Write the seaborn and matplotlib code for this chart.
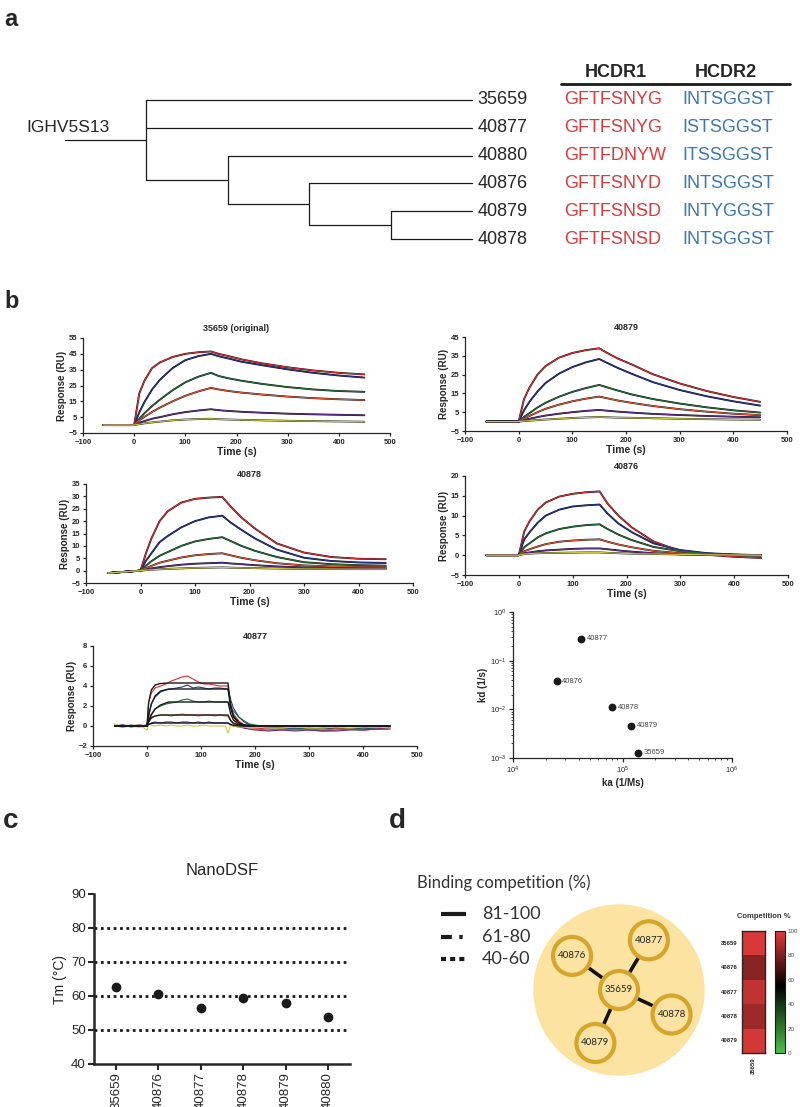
import numpy as np
import pandas as pd
import matplotlib
matplotlib.use("Agg")
import matplotlib.pyplot as plt
import matplotlib.transforms as mtransforms
from matplotlib.colors import LinearSegmentedColormap
from matplotlib.patches import Circle
from matplotlib.ticker import LogLocator, NullFormatter
import seaborn as sns

# ---------------- data ----------------
# a: clonal tree + CDR sequences
clones = ["35659", "40877", "40880", "40876", "40879", "40878"]
hcdr1 = ["GFTFSNYG", "GFTFSNYG", "GFTFDNYW", "GFTFSNYD", "GFTFSNSD", "GFTFSNSD"]
hcdr2 = ["INTSGGST", "ISTSGGST", "ITSSGGST", "INTSGGST", "INTYGGST", "INTSGGST"]
tree = (0, ["35659", "40877", (1, ["40880", (2, ["40876", (3, ["40879", "40878"])])])])
germline = "IGHV5S13"

# b: SPR sensorgrams (RU), six analyte concentrations, high -> low
t_spr = [-60, 0, 10, 20, 35, 50, 75, 100, 125, 150, 165, 185, 210, 250, 300, 350, 400, 450]
spr_35659 = [
    [0, 0, 20, 28, 36, 39.5, 43, 45, 46, 46.5, 45, 43.5, 41.5, 39, 36.5, 34.5, 33, 32],
    [0, 0, 8, 14.5, 22.5, 28.5, 36, 41, 43.5, 45, 43.5, 42, 40, 37.8, 35.2, 33, 31.3, 30],
    [0, 0, 4, 7.5, 12, 16, 22, 27, 30.5, 33, 31, 29.5, 28, 26, 24, 22.5, 21.5, 21],
    [0, 0, 3, 5.2, 8.3, 11, 15, 18.5, 21.2, 23.5, 22.5, 21.5, 20.5, 19.3, 18, 17, 16.3, 15.8],
    [0, 0, 1.5, 2.5, 4, 5, 6.8, 8.2, 9.2, 10, 9.4, 8.9, 8.4, 7.8, 7.2, 6.8, 6.5, 6.2],
    [0, 0, 0.6, 1.1, 1.7, 2.2, 3, 3.5, 3.8, 4, 3.7, 3.5, 3.3, 3, 2.7, 2.5, 2.3, 2.1],
]
spr_40879 = [
    [0, 0, 12, 18, 25, 29.5, 34, 36.5, 38, 39, 36.5, 33.5, 30.5, 25.2, 20.3, 16.3, 13.1, 10.5],
    [0, 0, 6, 10.5, 16, 20.5, 25.5, 29, 31.5, 33.3, 31.2, 28.5, 25.5, 21, 16.8, 13.5, 10.8, 8.5],
    [0, 0, 2.5, 4.5, 7.5, 10, 13.2, 15.8, 17.8, 19.5, 18.2, 16.5, 14.5, 12, 9.6, 7.6, 6, 4.8],
    [0, 0, 1.5, 3, 5, 6.8, 9, 10.8, 12.2, 13.3, 12.4, 11.2, 10, 8.3, 6.6, 5.3, 4.2, 3.4],
    [0, 0, 0.8, 1.5, 2.4, 3.2, 4.2, 5, 5.7, 6.2, 5.8, 5.3, 4.8, 4.1, 3.5, 3, 2.6, 2.3],
    [0, 0, 0.3, 0.5, 0.8, 1.1, 1.5, 1.9, 2.2, 2.4, 2.3, 2.1, 2, 1.8, 1.5, 1.3, 1.1, 1.0],
]
spr_40878 = [
    [-1, 0, 7, 13, 20, 24, 27.5, 29, 29.5, 29.8, 26, 21.5, 17, 11, 7.3, 5.5, 4.8, 4.6],
    [-1, 0, 4, 7, 11.5, 14, 17.5, 20, 21.5, 22.2, 19.5, 16.5, 13, 8.5, 5.2, 3.9, 3.3, 3.1],
    [-1, 0, 2, 3.8, 6, 7.5, 10, 11.8, 12.8, 13.5, 12, 10, 8, 5.5, 3.4, 2.6, 2.2, 2],
    [-1, 0, 1, 1.9, 3.2, 4, 5.3, 6.2, 6.7, 7, 6.2, 5.2, 4.2, 3, 2.1, 1.7, 1.5, 1.4],
    [-1, 0, 0.5, 0.9, 1.4, 1.8, 2.4, 2.8, 3, 3.2, 2.9, 2.6, 2.2, 1.7, 1.3, 1.1, 1, 1],
    [-1, 0, 0.2, 0.35, 0.55, 0.7, 0.9, 1.1, 1.2, 1.3, 1.2, 1.1, 1, 0.85, 0.7, 0.65, 0.6, 0.6],
]
spr_40876 = [
    [0, 0, 6, 8.6, 11.5, 13.3, 14.8, 15.5, 15.9, 16.1, 13, 10, 7, 3.5, 1, 0.1, -0.4, -0.7],
    [0, 0, 4, 5.8, 8.2, 10, 11.5, 12.3, 12.6, 12.8, 10.5, 8, 5.8, 3, 1.3, 0.5, 0.2, 0],
    [0, 0, 2, 3, 4.5, 5.5, 6.6, 7.2, 7.6, 7.8, 6.6, 5.2, 3.8, 2.1, 1, 0.4, 0.1, 0],
    [0, 0, 1, 1.5, 2.2, 2.8, 3.4, 3.7, 3.9, 4, 3.4, 2.7, 2, 1.1, 0.5, 0.2, 0, -0.1],
    [0, 0, 0.5, 0.7, 1, 1.2, 1.4, 1.6, 1.7, 1.7, 1.5, 1.2, 0.9, 0.5, 0.2, 0.1, 0, 0],
    [0, 0, 0.3, 0.4, 0.5, 0.55, 0.6, 0.65, 0.7, 0.7, 0.6, 0.5, 0.4, 0.3, 0.2, 0.1, 0.05, 0],
]
t_40877 = [-60, -45, -30, -15, 0, 3, 8, 15, 25, 35, 45, 55, 65, 75, 85, 95, 105, 115, 125,
           135, 145, 150, 155, 160, 170, 180, 190, 200, 225, 250, 275, 300, 325, 350, 375,
           400, 425, 450]
spr_40877 = [
    [0.1, -0.1, 0.0, 0.1, 0.0,
     2.4, 3.3, 3.8, 4.0, 4.2, 4.5, 4.7, 4.9, 5.0, 4.7, 4.4, 4.2, 4.2, 4.1, 4.0, 4.0, 4.0,
     2.2, 1.2, 0.5, 0.1, -0.1, -0.2, -0.3, -0.4, -0.3, -0.4, -0.5, -0.4, -0.3, -0.4, -0.3, -0.2],
    [0.0, 0.1, -0.1, 0.0, 0.1,
     1.0, 2.2, 2.9, 3.4, 3.6, 3.7, 3.8, 3.9, 4.1, 3.8, 3.9, 3.8, 3.7, 3.8, 3.8, 3.7, 3.7,
     2.6, 1.8, 0.9, 0.4, 0.1, 0.0, -0.2, -0.2, -0.3, -0.2, -0.3, -0.2, -0.3, -0.2, -0.3, -0.2],
    [0.0, -0.1, 0.1, 0.0, 0.0,
     0.5, 1.2, 1.7, 2.0, 2.2, 2.3, 2.4, 2.6, 2.7, 2.5, 2.4, 2.4, 2.5, 2.4, 2.4, 2.4, 2.4,
     1.9, 1.5, 0.9, 0.5, 0.2, 0.1, -0.1, -0.2, -0.2, -0.3, -0.2, -0.2, -0.3, -0.2, -0.2, -0.1],
    [0.1, 0.0, 0.0, -0.1, 0.0,
     0.4, 0.9, 1.0, 1.1, 1.1, 1.0, 1.1, 1.2, 1.1, 1.1, 1.0, 1.1, 1.1, 1.0, 1.1, 1.0, 1.0,
     0.5, 0.2, 0.0, -0.2, -0.3, -0.3, -0.4, -0.3, -0.4, -0.3, -0.4, -0.3, -0.3, -0.4, -0.3, -0.3],
    [0.0, 0.1, 0.0, 0.1, 0.0,
     0.2, 0.3, 0.4, 0.3, 0.4, 0.4, 0.3, 0.4, 0.4, 0.3, 0.4, 0.3, 0.4, 0.3, 0.3, 0.3, 0.3,
     0.1, 0.0, -0.1, -0.2, -0.3, -0.4, -0.5, -0.4, -0.5, -0.4, -0.5, -0.5, -0.4, -0.4, -0.3, -0.3],
    [0.2, -0.1, 0.0, 0.1, -0.4,
     0.2, 0.1, 0.0, 0.1, 0.0, 0.1, 0.0, 0.0, 0.1, 0.0, 0.0, 0.1, 0.0, 0.0, 0.0, 0.0, -0.7,
     0.1, 0.0, -0.1, -0.1, -0.2, -0.1, -0.2, -0.2, -0.1, -0.2, -0.2, -0.1, -0.2, -0.1, -0.1, -0.2],
]
t_fit_40877 = [-60, 0, 3, 8, 15, 25, 40, 150, 155, 160, 170, 180, 200, 450]
fit_40877 = [
    [0, 0, 2.3, 3.6, 4.1, 4.25, 4.3, 4.3, 2.0, 1.0, 0.35, 0.1, 0, 0],
    [0, 0, 1.0, 2.2, 3.0, 3.5, 3.7, 3.7, 1.8, 0.9, 0.3, 0.1, 0, 0],
    [0, 0, 0.5, 1.1, 1.7, 2.1, 2.4, 2.4, 1.2, 0.6, 0.2, 0.05, 0, 0],
    [0, 0, 0.4, 0.8, 1.0, 1.1, 1.1, 1.1, 0.55, 0.3, 0.1, 0, 0, 0],
    [0, 0, 0.15, 0.25, 0.3, 0.3, 0.3, 0.3, 0.15, 0.07, 0.02, 0, 0, 0],
]

# b: kinetics map
kin_clones = ["40877", "40876", "40878", "40879", "35659"]
ka = [4.2e4, 2.5e4, 8.0e4, 1.2e5, 1.38e5]
kd = [0.28, 0.038, 0.011, 0.0046, 0.00127]

# c: NanoDSF
tm_clones = ["35659", "40876", "40877", "40878", "40879", "40880"]
tm = [62.6, 60.5, 56.4, 59.4, 57.9, 53.9]

# d: competition with 35659
comp_clones = ["35659", "40876", "40877", "40878", "40879"]
competition = [98, 82, 93, 86, 97]
comp_bins = ["81-100", "61-80", "40-60"]

# ---------------- style ----------------
sns.set_theme(style="ticks")
plt.rcParams["font.family"] = ["Liberation Sans", "DejaVu Sans"]
plt.rcParams["axes.linewidth"] = 0.9

W, H = 800, 1107
fig = plt.figure(figsize=(W / 100, H / 100), dpi=100)


def box(l, t, r, b):
    return fig.add_axes([l / W, 1 - b / H, (r - l) / W, (b - t) / H])


def ftext(x, y, s, **kw):
    return fig.text(x / W, 1 - y / H, s, **kw)


seq_red, seq_blue = "#e0383a", "#3a78b5"

# ---------------- a ----------------
ftext(4, 8, "a", fontsize=17, fontweight="bold", va="top")
ax = box(65, 86, 472, 253)
ax.axis("off")
ax.set_xlim(-1, 4)
ax.set_ylim(5.5, -0.5)
leaf_depth = 4


def draw(node):
    if isinstance(node, str):
        return clones.index(node)
    depth, kids = node
    ys = []
    for k in kids:
        y = draw(k)
        x_end = leaf_depth if isinstance(k, str) else k[0]
        ax.plot([depth, x_end], [y, y], color="k", lw=0.9, clip_on=False)
        ys.append(y)
    ax.plot([depth, depth], [min(ys), max(ys)], color="k", lw=0.9, clip_on=False)
    return (min(ys) + max(ys)) / 2


root_y = draw(tree)
ax.plot([-1, tree[0]], [root_y, root_y], color="k", lw=0.9, clip_on=False)
ax.text(-0.45, 1, germline, ha="right", va="center", fontsize=12.5)
for i, c in enumerate(clones):
    ax.annotate(c, (leaf_depth, i), xytext=(4, 0), textcoords="offset points",
                va="center", fontsize=13)
trans = mtransforms.blended_transform_factory(fig.transFigure, ax.transData)
for i in range(len(clones)):
    ax.text(564 / W, i, hcdr1[i], transform=trans, va="center", fontsize=13,
            color=seq_red)
    ax.text(682 / W, i, hcdr2[i], transform=trans, va="center", fontsize=13,
            color=seq_blue)
ax.text(616 / W, -1.0, "HCDR1", transform=trans, ha="center", va="center",
        fontsize=13, fontweight="bold")
ax.text(726 / W, -1.0, "HCDR2", transform=trans, ha="center", va="center",
        fontsize=13, fontweight="bold")
ax.plot([561 / W, 790 / W], [-0.57, -0.57], transform=trans, color="k", lw=2,
        clip_on=False)

# ---------------- b ----------------
ftext(4, 290, "b", fontsize=17, fontweight="bold", va="top")
spr_colors = ["#e3262c", "#24318f", "#1d6e36", "#e5512e", "#5d2c8a", "#c9cc3f"]


def long_df(t, resp):
    rows = [(tt, v, f"c{i}") for i, row in enumerate(resp) for tt, v in zip(t, row)]
    return pd.DataFrame(rows, columns=["time", "resp", "conc"])


def spr_panel(rect, title, t, resp, ylim, ystep, t_fit=None, fit=None):
    a = box(*rect)
    df = long_df(t, resp)
    if fit is None:
        sns.lineplot(data=df, x="time", y="resp", units="conc", estimator=None,
                     color="k", lw=1.35, ax=a)
    sns.lineplot(data=df, x="time", y="resp", hue="conc", palette=spr_colors,
                 lw=0.8, ax=a, legend=False)
    if fit is not None:
        sns.lineplot(data=long_df(t_fit, fit), x="time", y="resp", units="conc",
                     estimator=None, color="k", lw=1.0, ax=a)
    a.set_xlim(-100, 500)
    a.set_ylim(*ylim)
    a.set_xticks(range(-100, 501, 100))
    a.set_yticks(np.arange(ylim[0], ylim[1] + 0.01, ystep))
    sns.despine(ax=a)
    a.set_title(title, fontsize=6.5, fontweight="bold", pad=5)
    a.set_xlabel("Time (s)", fontsize=7.5, fontweight="bold", labelpad=1)
    a.set_ylabel("Response (RU)", fontsize=7, fontweight="bold", labelpad=1)
    a.tick_params(labelsize=5.5, length=2.5, width=0.9, pad=1.5)
    for lab in a.get_xticklabels() + a.get_yticklabels():
        lab.set_fontweight("bold")
    return a


spr_panel((83, 338, 390, 433), "35659 (original)", t_spr, spr_35659, (-5, 55), 10)
spr_panel((465, 337, 787, 431), "40879", t_spr, spr_40879, (-5, 45), 10)
spr_panel((86, 484, 413, 583), "40878", t_spr, spr_40878, (-5, 35), 5)
spr_panel((465, 476, 788, 575), "40876", t_spr, spr_40876, (-5, 20), 5)
spr_panel((93, 646, 417, 746), "40877", t_40877, spr_40877, (-2, 8), 2,
          t_fit_40877, fit_40877)

ax = box(513, 612, 732, 758)
sns.scatterplot(x=ka, y=kd, color="k", s=32, linewidth=0, ax=ax)
ax.set_xscale("log")
ax.set_yscale("log")
ax.set_xlim(1e4, 1e6)
ax.set_ylim(1e-3, 1)
ax.xaxis.set_minor_locator(LogLocator(subs=np.arange(2, 10)))
ax.yaxis.set_minor_locator(LogLocator(subs=np.arange(2, 10)))
ax.xaxis.set_minor_formatter(NullFormatter())
ax.yaxis.set_minor_formatter(NullFormatter())
for name, x, y in zip(kin_clones, ka, kd):
    ax.annotate(name, (x, y), xytext=(4, 0), textcoords="offset points",
                va="center", fontsize=5.5, color="#444")
sns.despine(ax=ax)
ax.set_xlabel("ka (1/Ms)", fontsize=7, fontweight="bold", labelpad=2)
ax.set_ylabel("kd (1/s)", fontsize=7, fontweight="bold", labelpad=2)
ax.tick_params(which="major", labelsize=5.5, length=3, width=0.9, pad=1.5)
ax.tick_params(which="minor", length=1.5, width=0.6)

# ---------------- c ----------------
ftext(3, 808, "c", fontsize=20, fontweight="bold", va="top")
ax = box(94, 894, 350, 1064)
for y in [50, 60, 70, 80]:
    ax.axhline(y, color="k", lw=2, ls=(0, (1, 1.3)), zorder=0)
sns.stripplot(x=tm_clones, y=tm, jitter=False, color="k", size=7, ax=ax, zorder=3)
ax.set_xlim(-0.52, 5.52)
ax.set_ylim(40, 90)
ax.set_yticks(range(40, 91, 10))
sns.despine(ax=ax)
for s in ax.spines.values():
    s.set_linewidth(1.8)
ax.tick_params(labelsize=9.5, length=4, width=1.5, pad=2)
ax.tick_params(axis="x", rotation=90)
ax.set_ylabel("Tm (°C)", fontsize=10, labelpad=3)
ax.set_title("NanoDSF", fontsize=12, pad=14)

# ---------------- d ----------------
lato = ["Lato", "DejaVu Sans"]
ftext(389, 808, "d", fontsize=20, fontweight="bold", va="top")
ftext(417, 883, "Binding competition (%)", fontsize=12, va="center", family=lato,
      color="#333")
ax = box(430, 900, 530, 975)
ax.axis("off")
ax.set_xlim(430, 530)
ax.set_ylim(975, 900)
styles = ["-", (0, (2.6, 1.8, 0.8, 1.8)), (0, (1.2, 1.0))]
for i, (lab, ls) in enumerate(zip(comp_bins, styles)):
    ax.plot([441, 466], [914 + i * 22.5] * 2, color="k", lw=3, ls=ls,
            solid_capstyle="butt", dash_capstyle="butt")
    ax.text(482, 914 + i * 22.5, lab, va="center", fontsize=13, family=lato,
            color="#333")

ax = box(529, 900, 709, 1080)
ax.axis("off")
ax.set_xlim(-90, 90)
ax.set_ylim(-90, 90)
ax.set_aspect("equal")
ax.add_patch(Circle((0, 0), 85, color="#fde3a1", zorder=0))
sat_angles = [144, 59, -25, -114]
pos = {"35659": (0, 0)}
for name, ang in zip(comp_clones[1:], sat_angles):
    pos[name] = (58 * np.cos(np.radians(ang)), 58 * np.sin(np.radians(ang)))
for name, val in zip(comp_clones[1:], competition[1:]):
    ls = styles[0] if val > 80 else styles[1] if val > 60 else styles[2]
    ax.plot([0, pos[name][0]], [0, pos[name][1]], color="#111", lw=2.6, ls=ls, zorder=1)
for name, (x, y) in pos.items():
    ax.add_patch(Circle((x, y), 19, facecolor="#fde3a1", edgecolor="#d5a52c",
                        lw=3, zorder=2))
    ax.text(x, y, name, ha="center", va="center", fontsize=7, family=lato,
            color="#222", zorder=3)

gkr = LinearSegmentedColormap.from_list(
    "gkr", [(0, "#4cc04c"), (0.55, "#000000"), (1, "#e23b3b")])
comp = pd.DataFrame({"35659": competition}, index=comp_clones)
hax = box(742, 931, 765, 1053)
cax = box(775, 931, 785, 1053)
sns.heatmap(comp, cmap=gkr, vmin=0, vmax=100, ax=hax, cbar_ax=cax,
            cbar_kws={"ticks": range(0, 101, 20)})
for s in hax.spines.values():
    s.set_visible(True)
    s.set_linewidth(1)
hax.tick_params(length=0, labelsize=4.3, pad=3)
hax.set_yticklabels(hax.get_yticklabels(), rotation=0, fontweight="bold")
hax.set_xticklabels(hax.get_xticklabels(), rotation=90, fontweight="bold")
cbar = hax.collections[0].colorbar
cbar.outline.set_edgecolor("k")
cbar.outline.set_linewidth(0.8)
cax.tick_params(labelsize=4.5, length=0, colors="#555", pad=2)
ftext(764, 917, "Competition %", fontsize=5.5, fontweight="bold", ha="center",
      va="center", color="#333")

fig.savefig("out.png", dpi=100)
